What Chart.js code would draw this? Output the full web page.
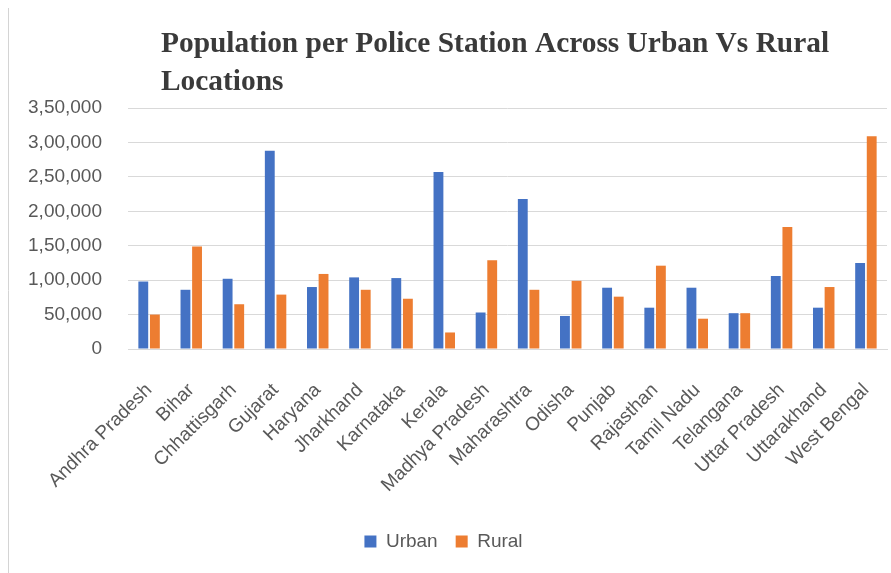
<!DOCTYPE html>
<html>
<head>
<meta charset="utf-8">
<script src="https://cdn.jsdelivr.net/npm/chart.js@4.4.0/dist/chart.umd.min.js"></script>
<style>
  html, body { margin: 0; padding: 0; background: #fff; }
  #wrap { width: 891px; height: 573px; }
</style>
</head>
<body>
<div id="wrap"><canvas id="chart" width="891" height="573"></canvas></div>
<script>
// chart data
const states = ['Andhra Pradesh', 'Bihar', 'Chhattisgarh', 'Gujarat', 'Haryana', 'Jharkhand',
    'Karnataka', 'Kerala', 'Madhya Pradesh', 'Maharashtra', 'Odisha', 'Punjab', 'Rajasthan',
    'Tamil Nadu', 'Telangana', 'Uttar Pradesh', 'Uttarakhand', 'West Bengal'];
const urban = [98000, 86000, 102000, 288000, 90000, 104000, 103000, 257000, 53000, 218000,
    48000, 89000, 60000, 89000, 52000, 106000, 60000, 125000];
const rural = [50000, 149000, 65000, 79000, 109000, 86000, 73000, 24000, 129000, 86000,
    99000, 76000, 121000, 44000, 52000, 177000, 90000, 309000];
const yTickLabels = ['0', '50,000', '1,00,000', '1,50,000', '2,00,000', '2,50,000', '3,00,000', '3,50,000'];
const titleLines = ['Population per Police Station Across Urban Vs Rural', 'Locations'];

const labelFont = { family: '"Liberation Sans", Arial, sans-serif', size: 19 };

// draws the left-aligned two line title and the frame line on the left
const titlePlugin = {
    id: 'leftTitle',
    afterDraw(chart) {
        const ctx = chart.ctx;
        ctx.save();
        ctx.strokeStyle = '#d4d4d4';
        ctx.lineWidth = 1;
        ctx.beginPath();
        ctx.moveTo(8.5, 8);
        ctx.lineTo(8.5, 573);
        ctx.stroke();

        ctx.fillStyle = '#3a3a3a';
        ctx.font = 'bold 29.4px "Liberation Serif", serif';
        ctx.textBaseline = 'alphabetic';
        ctx.textAlign = 'left';
        titleLines.forEach((line, i) => {
            ctx.fillText(line, 161, 52 + i * 38);
        });
        ctx.restore();
    }
};

const ctx = document.getElementById('chart').getContext('2d');
new Chart(ctx, {
    type: 'bar',
    data: {
        labels: states,
        datasets: [
            { label: 'Urban', data: urban, backgroundColor: '#4472C4' },
            { label: 'Rural', data: rural, backgroundColor: '#ED7D31' }
        ]
    },
    options: {
        responsive: false,
        animation: false,
        layout: { padding: { top: 108, right: 4, bottom: 12, left: 0 } },
        datasets: { bar: { categoryPercentage: 0.55, barPercentage: 0.85 } },
        plugins: {
            title: { display: false },
            tooltip: { enabled: false },
            legend: {
                position: 'bottom',
                labels: {
                    boxWidth: 12,
                    boxHeight: 12,
                    padding: 18,
                    color: '#595959',
                    font: labelFont
                }
            }
        },
        scales: {
            x: {
                grid: { display: false },
                border: { color: '#d9d9d9' },
                ticks: {
                    minRotation: 45,
                    maxRotation: 45,
                    autoSkip: false,
                    padding: 22,
                    color: '#595959',
                    font: labelFont
                },
                afterFit(scale) {
                    scale.height = 165;
                    scale.paddingLeft = 0;
                    scale.paddingRight = 0;
                }
            },
            y: {
                min: 0,
                max: 350000,
                grid: { color: '#d9d9d9', drawTicks: false },
                border: { display: false },
                ticks: {
                    stepSize: 50000,
                    padding: 26,
                    color: '#595959',
                    font: labelFont,
                    callback: (value, index) => yTickLabels[index]
                },
                afterFit(scale) { scale.width = 128; }
            }
        }
    },
    plugins: [titlePlugin]
});
</script>
</body>
</html>
